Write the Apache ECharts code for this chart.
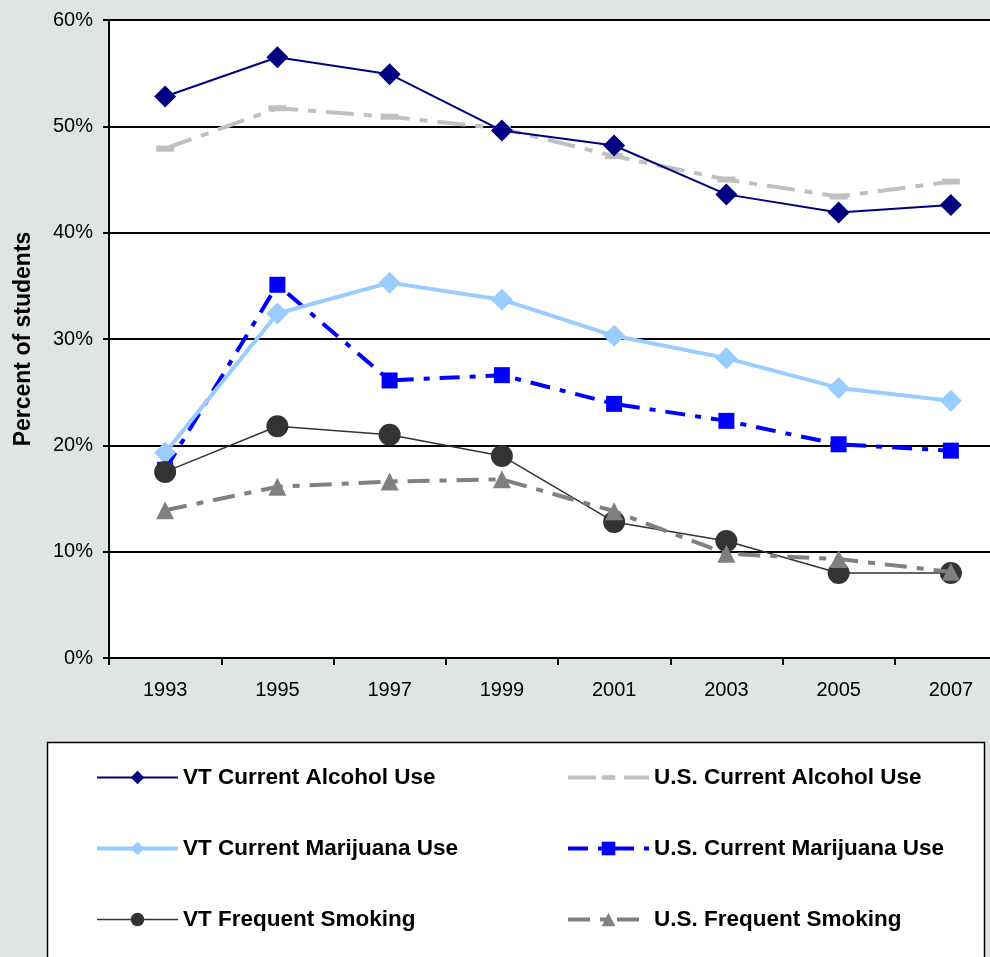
<!DOCTYPE html>
<html>
<head>
<meta charset="utf-8">
<script src="https://cdn.jsdelivr.net/npm/echarts@6/dist/echarts.min.js"></script>
<style>
  html, body { margin: 0; padding: 0; background: #e0e5e1; }
  #chart { width: 990px; height: 957px; }
</style>
</head>
<body>
<div id="chart"></div>
<script>
// Survey years on the x axis
const years = ['1993', '1995', '1997', '1999', '2001', '2003', '2005', '2007'];

// Percent of students, by year
const vtAlcohol   = [52.8, 56.5, 54.9, 49.6, 48.2, 43.6, 41.9, 42.6];
const usAlcohol   = [47.9, 51.7, 50.9, 49.8, 47.2, 45.0, 43.4, 44.8];
const vtMarijuana = [19.3, 32.4, 35.3, 33.7, 30.3, 28.2, 25.4, 24.2];
const usMarijuana = [17.7, 35.1, 26.1, 26.6, 23.9, 22.3, 20.1, 19.5];
const vtSmoking   = [17.5, 21.8, 21.0, 19.0, 12.8, 11.0, 8.0, 8.0];
const usSmoking   = [13.9, 16.1, 16.6, 16.8, 13.8, 9.8, 9.3, 8.1];

// Y axis tick values (percent)
const yTicks = [0, 10, 20, 30, 40, 50, 60];

const FONT = '"Liberation Sans", Arial, sans-serif';

// short horizontal bar used as a "dash" marker; the empty corner points
// keep the path's box square so the bar stays flat when scaled
const DASH_MARK = 'path://M0 0 L0 0 M0 6 H18 V12 H0 Z M18 18 L18 18';

const chart = echarts.init(document.getElementById('chart'), null, { renderer: 'canvas' });

const series = [
  {
    name: 'U.S. Current Alcohol Use', data: usAlcohol, z: 2,
    lineStyle: { color: '#c0c0c0', width: 4, type: [28, 10, 8, 10] },
    itemStyle: { color: '#c0c0c0' },
    symbol: DASH_MARK, symbolSize: 18
  },
  {
    name: 'U.S. Current Marijuana Use', data: usMarijuana, z: 3,
    lineStyle: { color: '#0000ff', width: 4, type: [20, 10, 6, 10] },
    itemStyle: { color: '#0000ff' },
    symbol: 'rect', symbolSize: 16
  },
  {
    name: 'VT Current Alcohol Use', data: vtAlcohol, z: 4,
    lineStyle: { color: '#000080', width: 2 },
    itemStyle: { color: '#000080' },
    symbol: 'diamond', symbolSize: 22
  },
  {
    name: 'VT Current Marijuana Use', data: vtMarijuana, z: 5,
    lineStyle: { color: '#99ccff', width: 4 },
    itemStyle: { color: '#99ccff' },
    symbol: 'diamond', symbolSize: 22
  },
  {
    name: 'VT Frequent Smoking', data: vtSmoking, z: 6,
    lineStyle: { color: '#333333', width: 1.5 },
    itemStyle: { color: '#333333' },
    symbol: 'circle', symbolSize: 22
  },
  {
    name: 'U.S. Frequent Smoking', data: usSmoking, z: 7,
    lineStyle: { color: '#808080', width: 4, type: [22, 10, 7, 10] },
    itemStyle: { color: '#808080' },
    symbol: 'triangle', symbolSize: 18
  }
].map(s => Object.assign({ type: 'line', showSymbol: true, animation: false, emphasis: { disabled: true } }, s));

const legendBase = {
  orient: 'vertical', top: 766, padding: 0,
  itemWidth: 81, itemHeight: 17, itemGap: 48,
  lineStyle: { width: 'inherit', type: 'inherit' },
  textStyle: { fontFamily: FONT, fontWeight: 'bold', fontSize: 22.5, lineHeight: 20, color: '#000' }
};

chart.setOption({
  backgroundColor: '#e0e5e1',
  animation: false,
  graphic: [
    {
      type: 'rect', z: -1,
      shape: { x: 47.5, y: 742.5, width: 937, height: 230 },
      style: { fill: '#ffffff', stroke: '#000000', lineWidth: 1.5 }
    }
  ],
  grid: {
    left: 109, top: 20, width: 898, height: 638,
    outerBoundsMode: 'none', containLabel: false,
    show: true, backgroundColor: '#ffffff', borderColor: '#808080', borderWidth: 2
  },
  legend: [
    Object.assign({}, legendBase, {
      left: 95,
      data: ['VT Current Alcohol Use', 'VT Current Marijuana Use', 'VT Frequent Smoking']
    }),
    Object.assign({}, legendBase, {
      left: 566,
      data: ['U.S. Current Alcohol Use', 'U.S. Current Marijuana Use', 'U.S. Frequent Smoking']
    })
  ],
  xAxis: {
    type: 'category', data: years, boundaryGap: true,
    axisLine: { lineStyle: { color: '#000', width: 2 } },
    axisTick: { show: true, length: 7, lineStyle: { color: '#000', width: 2 } },
    axisLabel: { margin: 22, fontFamily: FONT, fontSize: 20, color: '#000' },
    splitLine: { show: false }
  },
  yAxis: {
    type: 'value', min: yTicks[0], max: yTicks[yTicks.length - 1], interval: 10,
    name: 'Percent of students', nameLocation: 'middle', nameGap: 74,
    nameTextStyle: { fontFamily: FONT, fontWeight: 'bold', fontSize: 23, color: '#000' },
    axisLine: { show: true, lineStyle: { color: '#000', width: 2 } },
    axisTick: { show: true, length: 6, lineStyle: { color: '#000', width: 2 } },
    axisLabel: { margin: 16, fontFamily: FONT, fontSize: 20, color: '#000', formatter: '{value}%' },
    splitLine: { show: true, lineStyle: { color: '#000', width: 2 } }
  },
  series: series
});
</script>
</body>
</html>
